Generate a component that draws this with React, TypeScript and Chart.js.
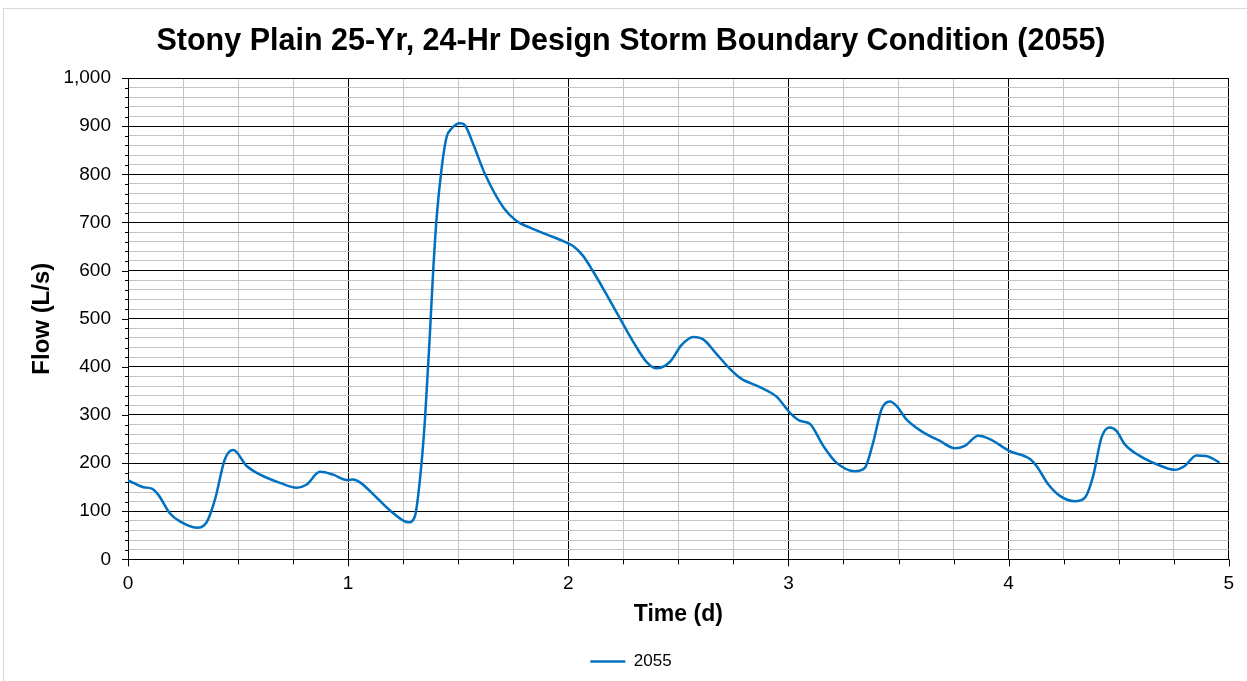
import React, { useEffect, useRef } from "react";
import { Chart, registerables } from "chart.js";

Chart.register(...registerables);

const TITLE = "Stony Plain 25-Yr, 24-Hr Design Storm Boundary Condition (2055)";
const SERIES_NAME = "2055";
const X_TITLE = "Time (d)";
const Y_TITLE = "Flow (L/s)";

const timeDays: number[] = [
  0.0, 0.024, 0.07, 0.108, 0.138, 0.19, 0.236, 0.312, 0.357, 0.395, 0.44, 0.478,
  0.539, 0.6, 0.69, 0.766, 0.81, 0.872, 0.932, 0.993, 1.023, 1.054, 1.13, 1.205,
  1.273, 1.303, 1.326, 1.349, 1.371, 1.387, 1.402, 1.425, 1.447, 1.47, 1.508, 1.53,
  1.568, 1.621, 1.705, 1.765, 1.826, 1.901, 1.977, 2.022, 2.068, 2.113, 2.174, 2.234,
  2.295, 2.356, 2.401, 2.461, 2.514, 2.567, 2.613, 2.673, 2.734, 2.787, 2.87, 2.946,
  3.006, 3.052, 3.097, 3.158, 3.218, 3.302, 3.347, 3.385, 3.423, 3.461, 3.491, 3.536,
  3.612, 3.688, 3.756, 3.801, 3.862, 3.915, 4.005, 4.096, 4.127, 4.18, 4.233, 4.301,
  4.346, 4.384, 4.422, 4.459, 4.49, 4.528, 4.596, 4.687, 4.755, 4.8, 4.853, 4.898, 4.958,
];

const flowLps: number[] = [
  164, 159, 150, 147, 134, 96, 79, 66, 77, 124, 208, 227,
  194, 176, 159, 149, 155, 182, 176, 165, 166, 160, 128, 96,
  77, 89, 165, 291, 466, 605, 710, 814, 877, 895, 906, 902,
  863, 801, 731, 703, 689, 675, 661, 651, 630, 598, 550, 501,
  452, 410, 397, 410, 445, 462, 457, 427, 396, 375, 358, 338,
  305, 288, 282, 236, 201, 183, 190, 243, 312, 328, 319, 291,
  264, 246, 231, 236, 257, 250, 225, 209, 194, 156, 132, 121,
  128, 173, 253, 274, 267, 239, 215, 195, 186, 194, 216, 215, 201,
];

const X_MIN = 0;
const X_MAX = 5;
const X_STEP = 0.25;
const Y_MIN = 0;
const Y_MAX = 1000;
const Y_STEP = 20;

const FONT = "'Liberation Sans', Arial, Helvetica, sans-serif";
const LINE_COLOR = "#0070C0";
const MINOR_GRID = "#c4c4c4";
const MAJOR_GRID = "#000000";

const isMajorX = (v: number) => Math.abs(v - Math.round(v)) < 1e-6;
const isMajorY = (v: number) => Math.abs(v % 100) < 1e-6;

const tickMarks = {
  id: "tickMarks",
  afterDraw(chart: any) {
    const { ctx, chartArea } = chart;
    const xs = chart.scales.x;
    const ys = chart.scales.y;
    ctx.save();
    ctx.strokeStyle = "#000";
    ctx.lineWidth = 1;
    ctx.beginPath();
    xs.ticks.forEach((t: any) => {
      const px = Math.round(xs.getPixelForValue(t.value)) + 0.5;
      const len = isMajorX(t.value) ? 7 : 5;
      ctx.moveTo(px, chartArea.bottom);
      ctx.lineTo(px, chartArea.bottom + len);
    });
    ys.ticks.forEach((t: any) => {
      const py = Math.round(ys.getPixelForValue(t.value)) + 0.5;
      const len = isMajorY(t.value) ? 6 : 3;
      ctx.moveTo(chartArea.left, py);
      ctx.lineTo(chartArea.left - len, py);
    });
    ctx.stroke();
    ctx.restore();
  },
};

export default function App() {
  const canvasRef = useRef<HTMLCanvasElement | null>(null);

  useEffect(() => {
    if (!canvasRef.current) return;
    const points = timeDays.map((t, i) => ({ x: t, y: flowLps[i] }));
    const chart = new Chart(canvasRef.current, {
      type: "line",
      data: {
        datasets: [
          {
            label: SERIES_NAME,
            data: points,
            borderColor: LINE_COLOR,
            backgroundColor: LINE_COLOR,
            borderWidth: 2.5,
            pointRadius: 0,
            pointHoverRadius: 0,
            fill: false,
            cubicInterpolationMode: "monotone",
            pointStyle: "line",
          },
        ],
      },
      options: {
        animation: false,
        responsive: false,
        maintainAspectRatio: false,
        layout: { padding: { left: 33, right: 18, top: 0, bottom: 1 } },
        plugins: {
          title: {
            display: true,
            text: TITLE,
            color: "#000",
            font: { family: FONT, size: 30.5, weight: "bold" },
            padding: { top: 23, bottom: 18.4 },
          },
          legend: {
            display: true,
            position: "bottom",
            labels: {
              color: "#000",
              font: { family: FONT, size: 17 },
              usePointStyle: true,
              pointStyleWidth: 35,
              padding: 10,
            },
          },
          tooltip: { enabled: false },
        },
        scales: {
          x: {
            type: "linear",
            min: X_MIN,
            max: X_MAX,
            afterFit: (s: any) => {
              s.height = 83.6;
            },
            ticks: {
              stepSize: X_STEP,
              autoSkip: false,
              maxRotation: 0,
              minRotation: 0,
              padding: 13,
              color: "#000",
              font: { family: FONT, size: 19 },
              callback: (v: any) => (isMajorX(Number(v)) ? String(Math.round(Number(v))) : ""),
            },
            grid: {
              drawTicks: false,
              lineWidth: 1,
              color: (c: any) => (c.tick && isMajorX(c.tick.value) ? MAJOR_GRID : MINOR_GRID),
            },
            border: { display: true, color: "#000", width: 1 },
            title: {
              display: true,
              text: X_TITLE,
              color: "#000",
              font: { family: FONT, size: 23, weight: "bold" },
              padding: { top: 0, bottom: 15 },
            },
          },
          y: {
            type: "linear",
            min: Y_MIN,
            max: Y_MAX,
            afterFit: (s: any) => {
              s.width = 95;
            },
            ticks: {
              stepSize: Y_STEP,
              autoSkip: false,
              padding: 17,
              color: "#000",
              font: { family: FONT, size: 19 },
              callback: (v: any) =>
                isMajorY(Number(v)) ? Number(v).toLocaleString("en-US") : "",
            },
            grid: {
              drawTicks: false,
              lineWidth: 1,
              color: (c: any) => (c.tick && isMajorY(c.tick.value) ? MAJOR_GRID : MINOR_GRID),
            },
            border: { display: true, color: "#000", width: 1 },
            title: {
              display: true,
              text: Y_TITLE,
              color: "#000",
              font: { family: FONT, size: 24, weight: "bold", lineHeight: 0.75 },
              padding: { top: 0, bottom: 0 },
            },
          },
        },
      },
      plugins: [tickMarks],
    } as any);
    return () => chart.destroy();
  }, []);

  return (
    <div
      style={{
        position: "fixed",
        left: 0,
        top: 0,
        width: 1247,
        height: 681,
        background: "#fff",
        overflow: "hidden",
      }}
    >
      <div
        style={{
          position: "absolute",
          left: 3,
          top: 8,
          width: 1300,
          height: 700,
          borderLeft: "1px solid #d9d9d9",
          borderTop: "1px solid #d9d9d9",
        }}
      />
      <canvas
        ref={canvasRef}
        width={1247}
        height={681}
        style={{ position: "absolute", left: 0, top: 0, width: 1247, height: 681 }}
      />
    </div>
  );
}
